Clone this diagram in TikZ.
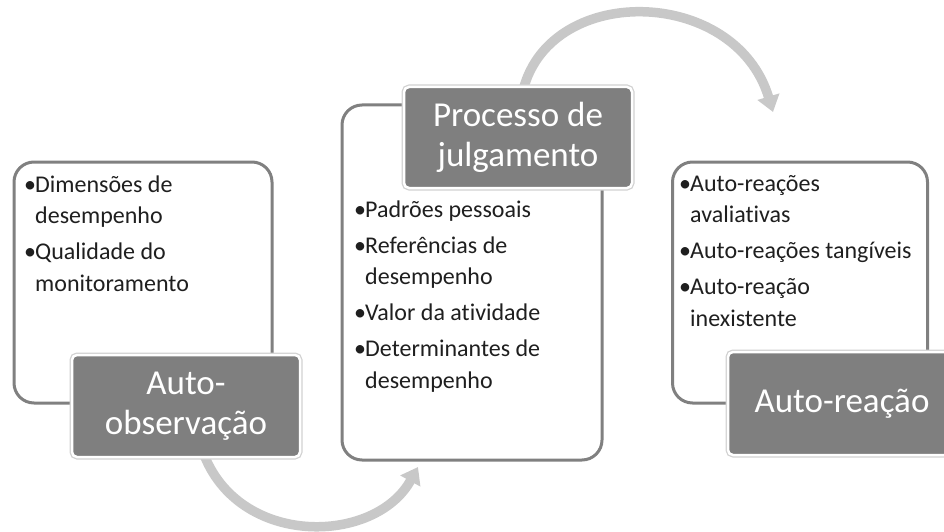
\documentclass[tikz,border=0pt]{standalone}
\usepackage{fontspec}
\setmainfont{Carlito}[Ligatures=NoCommon]
\usetikzlibrary{arrows.meta}
\definecolor{boxline}{RGB}{128,128,128}
\definecolor{labfill}{RGB}{127,127,127}
\definecolor{arrowgray}{RGB}{200,200,200}
\newcommand{\bul}{\makebox[10pt][c]{•}}
\newcommand{\cnt}{\hspace*{10pt}}
\begin{document}
\begin{tikzpicture}[x=1pt,y=-1pt,
  contentbox/.style={draw=boxline, line width=3pt, fill=white, rounded corners=20pt, inner sep=0pt},
  stagelabel/.style={fill=labfill, draw=white, line width=2.5pt, rounded corners=5pt,
    preaction={draw=black!18, line width=5pt},
    text=white, font=\fontsize{35}{40}\selectfont, align=center, inner sep=0pt},
  bodytext/.style={anchor=north west, inner sep=0pt, align=left,
    font=\fontsize{24}{31.5}\selectfont, text=black!88},
  cyc/.style={draw=arrowgray, line width=9.5pt, -{Triangle[width=22pt,length=16pt]}}]
\useasboundingbox (0,0) rectangle (944,532);

% cycle arrows
\coordinate (a1s) at (203,452);
\coordinate (a1e) at (418,467);
\coordinate (a2s) at (522,95);
\coordinate (a2e) at (773,112);
\draw[cyc] (a1s) .. controls (238,548) and (375,545) .. (a1e);
\draw[cyc] (a2s) .. controls (545,-18) and (735,-15) .. (a2e);

% content boxes
\node[contentbox, minimum width=258pt, minimum height=241pt] (boxL) at (143,282.5) {};
\node[contentbox, minimum width=260pt, minimum height=355pt] (boxC) at (472,282.5) {};
\node[contentbox, minimum width=255pt, minimum height=241pt] (boxR) at (800,282.5) {};

% box texts
\node[bodytext] (tL) at (25,172) {\rule{0pt}{20pt}\bul Dimensões de\\\cnt desempenho\\[4.5pt]\bul Qualidade do\\\cnt monitoramento};
\node[bodytext] (tC) at (355,197) {\rule{0pt}{20pt}\bul Padrões pessoais\\[4.5pt]\bul Referências de\\\cnt desempenho\\[4.5pt]\bul Valor da atividade\\[4.5pt]\bul Determinantes de\\\cnt desempenho};
\node[bodytext] (tR) at (680,171) {\rule{0pt}{20pt}\bul Auto-reações\\\cnt avaliativas\\[4.5pt]\bul Auto-reações tangíveis\\[4.5pt]\bul Auto-reação\\\cnt inexistente};

% stage labels
\node[stagelabel, minimum width=228pt, minimum height=102pt] (labL) at (186,406) {Auto-\\observação};
\node[stagelabel, minimum width=228pt, minimum height=101pt] (labC) at (518,137.5) {Processo de\\julgamento};
\node[stagelabel, minimum width=228pt, minimum height=103pt] (labR) at (842,403.5) {\raisebox{-5pt}{Auto-reação}};
\end{tikzpicture}
\end{document}
